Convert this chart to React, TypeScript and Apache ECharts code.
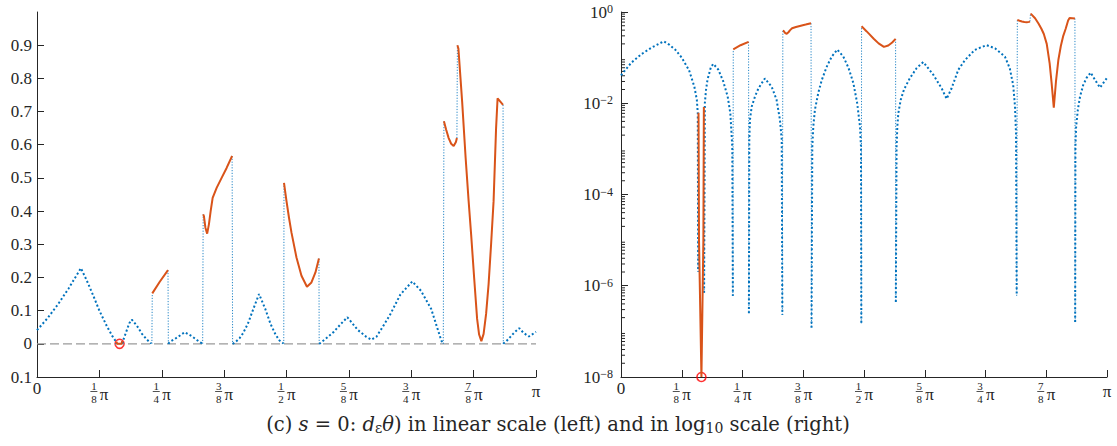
import React, { useEffect, useRef } from 'react';
import * as echarts from 'echarts';

const FONT = 'Liberation Serif';
const CAPFONT = 'DejaVu Serif';
const AX = '#262626';
const BLUE = '#0072BD';
const RED = '#D95319';

// x in units of pi, y = d_eps(theta)
const blue1 = [[0, 0.041], [0.021, 0.077], [0.0425, 0.12], [0.063, 0.166], [0.088, 0.228], [0.1, 0.19], [0.112, 0.148], [0.125, 0.1], [0.14, 0.053], [0.151, 0.023], [0.156, 0.012], [0.158, 0.006], [0.1588, 2e-6]];
const red1 = [[0.1595, 0.0062], [0.1605, 1e-5], [0.1655, 1e-8], [0.1695, 1e-5], [0.1705, 0.0083]];
const blue2 = [[0.171, 7e-7], [0.1725, 0.01], [0.175, 0.02], [0.178, 0.033], [0.185, 0.062], [0.19, 0.073], [0.2, 0.055], [0.21, 0.031], [0.2195, 0.014], [0.225, 0.006], [0.229, 0.0011], [0.2302, 6e-7]];
const red2 = [[0.231, 0.152], [0.246, 0.187], [0.2625, 0.222]];
const blue3 = [[0.2632, 2.5e-7], [0.264, 0.0016], [0.2654, 0.0044], [0.269, 0.0085], [0.2757, 0.014], [0.2826, 0.021], [0.296, 0.035], [0.31, 0.023], [0.32, 0.012], [0.327, 0.0044], [0.3307, 0.0016], [0.332, 2.3e-7]];
const red3 = [[0.333, 0.39], [0.3345, 0.385], [0.3375, 0.35], [0.341, 0.332], [0.3445, 0.36], [0.348, 0.4], [0.352, 0.44], [0.36, 0.47], [0.37, 0.5], [0.38, 0.53], [0.391, 0.566]];
const blue4 = [[0.392, 1.2e-7], [0.3936, 0.0011], [0.3957, 0.0031], [0.399, 0.0072], [0.406, 0.017], [0.413, 0.032], [0.423, 0.062], [0.4335, 0.105], [0.445, 0.15], [0.4575, 0.105], [0.468, 0.06], [0.478, 0.028], [0.486, 0.01], [0.4918, 0.0031], [0.4938, 0.0011], [0.4945, 1.5e-7]];
const red4 = [[0.495, 0.485], [0.5, 0.43], [0.505, 0.38], [0.51, 0.335], [0.52, 0.26], [0.53, 0.205], [0.541, 0.172], [0.55, 0.185], [0.558, 0.215], [0.565, 0.257]];
const blue5 = [[0.5655, 4.4e-7], [0.567, 0.0011], [0.5686, 0.0031], [0.5706, 0.006], [0.5755, 0.0118], [0.5823, 0.02], [0.5947, 0.036], [0.6084, 0.059], [0.622, 0.08], [0.6427, 0.042], [0.66, 0.021], [0.67, 0.0125], [0.68, 0.021], [0.694, 0.054], [0.708, 0.089], [0.728, 0.148], [0.752, 0.188], [0.7695, 0.16], [0.79, 0.105], [0.8, 0.058], [0.807, 0.025], [0.8107, 0.0085], [0.8128, 0.0022], [0.8142, 6e-7]];
const red5a = [[0.8155, 0.671], [0.82, 0.645], [0.825, 0.62], [0.83, 0.603], [0.835, 0.596], [0.8395, 0.608], [0.8415, 0.62]];
const red5b = [[0.8425, 0.9], [0.8445, 0.89], [0.852, 0.73], [0.859, 0.56], [0.865, 0.43], [0.87, 0.33], [0.876, 0.2], [0.882, 0.075], [0.886, 0.028], [0.8905, 0.008], [0.895, 0.03], [0.9, 0.09], [0.905, 0.18], [0.91, 0.3], [0.915, 0.43], [0.92, 0.65], [0.923, 0.74], [0.934, 0.72]];
const blue6 = [[0.9345, 1.6e-7], [0.935, 0.0011], [0.9365, 0.0031], [0.94, 0.0072], [0.9445, 0.014], [0.951, 0.025], [0.958, 0.036], [0.9665, 0.047], [0.975, 0.033], [0.9856, 0.022], [1.0, 0.036]];

const circlePoint = [0.1655, 0];
const circlePointLog = [0.1655, 1e-8];
const zeroLine = [[0, 0], [1, 0]];

const xTicks = [0, 0.125, 0.25, 0.375, 0.5, 0.625, 0.75, 0.875, 1];
const xTickNum = ['', '1', '1', '3', '1', '5', '3', '7', ''];
const xTickDen = ['', '8', '4', '8', '2', '8', '4', '8', ''];
const linTicks = [-0.1, 0, 0.1, 0.2, 0.3, 0.4, 0.5, 0.6, 0.7, 0.8, 0.9];
const linTickLabels = ['0.1', '0', '0.1', '0.2', '0.3', '0.4', '0.5', '0.6', '0.7', '0.8', '0.9'];
const logTickExp = [-8, -6, -4, -2, 0];
const logTickLabels = ['−8', '−6', '−4', '−2', '0'];

const blueSegs = [blue1, blue2, blue3, blue4, blue5, blue6];
const redSegs = [red1, red2, red3, red4, red5a, red5b];
const sequence = [blue1, red1, blue2, red2, blue3, red3, blue4, red4, blue5, red5a, red5b, blue6];

function joinWithGaps(segs: number[][][]) {
  const out: any[] = [];
  segs.forEach((s, i) => {
    if (i > 0) out.push([s[0][0], '-']);
    s.forEach((p) => out.push(p));
  });
  return out;
}

function jumps() {
  const out: any[] = [];
  for (let i = 0; i + 1 < sequence.length; i++) {
    const a = sequence[i][sequence[i].length - 1];
    const b = sequence[i + 1][0];
    if (i > 0) out.push([a[0], '-']);
    out.push(a, b);
  }
  return out;
}

const logMinor: number[] = [];
for (let e = -8; e < 0; e++) for (let m = 2; m <= 9; m++) logMinor.push(m * Math.pow(10, e));

const xRich = {
  z: { fontSize: 17, lineHeight: 14, fontFamily: FONT, color: AX },
  pe: { fontSize: 17, lineHeight: 14, fontFamily: FONT, color: AX, padding: [6, 0, 0, 0] },
  n: { fontSize: 11, lineHeight: 9, width: 7, align: 'center', fontFamily: FONT, color: AX },
  d: { fontSize: 11, lineHeight: 11, width: 7, align: 'center', fontFamily: FONT, color: AX },
  bar: { width: 7, height: 0.8, lineHeight: 3, backgroundColor: AX },
  p: { fontSize: 17, lineHeight: 3, width: 11, align: 'right', fontFamily: FONT, color: AX, padding: [6, 0, 0, 0] },
  sp: { width: 11, lineHeight: 9 },
};

function xFmt(v: number) {
  const i = xTicks.findIndex((x) => Math.abs(x - v) < 1e-6);
  if (i < 0) return '';
  if (i === 0) return '{z|0}';
  if (i === xTicks.length - 1) return '{pe|π}';
  return `{n|${xTickNum[i]}}{sp|}\n{bar|}{p|π}\n{d|${xTickDen[i]}}{sp|}`;
}

const xAxisBase = (gi: number) => ({
  type: 'value',
  gridIndex: gi,
  min: 0,
  max: 1,
  interval: 0.125,
  axisLine: { show: true, onZero: false, lineStyle: { color: AX, width: 1 } },
  axisTick: { show: true, inside: true, length: 7, lineStyle: { color: AX } },
  splitLine: { show: false },
  axisLabel: { margin: 4, formatter: xFmt, rich: xRich, color: AX, fontFamily: FONT },
});

export default function App() {
  const ref = useRef<HTMLDivElement>(null);
  useEffect(() => {
    if (!ref.current) return;
    const chart = echarts.init(ref.current, undefined, { renderer: 'svg' });
    const blueThick = joinWithGaps(blueSegs);
    const redAll = joinWithGaps(redSegs);
    const thin = jumps();
    const blueStyle = { color: BLUE, width: 2, type: [2, 2.3], cap: 'butt' };
    const thinStyle = { color: BLUE, width: 1, type: [1.2, 1.6], opacity: 0.85 };
    const redStyle = { color: RED, width: 2 };
    const option: any = {
      animation: false,
      textStyle: { fontFamily: FONT },
      grid: [
        { left: 37, top: 12, width: 499, height: 365 },
        { left: 621, top: 12, width: 486, height: 365 },
      ],
      xAxis: [xAxisBase(0), xAxisBase(1)],
      yAxis: [
        {
          type: 'value',
          gridIndex: 0,
          min: -0.1,
          max: 1,
          interval: 0.1,
          axisLine: { show: true, onZero: false, lineStyle: { color: AX, width: 1 } },
          axisTick: { show: true, inside: true, length: 7, lineStyle: { color: AX }, customValues: linTicks },
          splitLine: { show: false },
          axisLabel: {
            customValues: linTicks,
            margin: 5,
            color: AX,
            fontSize: 17,
            fontFamily: FONT,
            formatter: (v: number) => {
              const i = linTicks.findIndex((x) => Math.abs(x - v) < 1e-6);
              return i < 0 ? '' : linTickLabels[i];
            },
          },
        },
        {
          type: 'log',
          gridIndex: 1,
          logBase: 10,
          min: 1e-8,
          max: 1,
          interval: 2,
          axisLine: { show: true, onZero: false, lineStyle: { color: AX, width: 1 } },
          axisTick: { show: true, inside: true, length: 7, lineStyle: { color: AX } },
          splitLine: { show: false },
          axisLabel: {
            margin: 8,
            color: AX,
            fontFamily: FONT,
            formatter: (v: number) => {
              const e = Math.round(Math.log10(v));
              const i = logTickExp.indexOf(e);
              return i < 0 ? '' : `{b|10}{s|${logTickLabels[i]}}`;
            },
            rich: {
              b: { fontSize: 17, lineHeight: 18, fontFamily: FONT, color: AX },
              s: { fontSize: 12, lineHeight: 10, verticalAlign: 'top', fontFamily: FONT, color: AX },
            },
          },
        },
      ],
      series: [
        { type: 'line', xAxisIndex: 0, yAxisIndex: 0, data: zeroLine, symbol: 'none', silent: true, lineStyle: { color: '#9a9a9a', width: 1.3, type: [9, 4] } },
        { type: 'line', xAxisIndex: 0, yAxisIndex: 0, data: thin, symbol: 'none', silent: true, connectNulls: false, lineStyle: thinStyle },
        { type: 'line', xAxisIndex: 0, yAxisIndex: 0, data: blueThick, symbol: 'none', silent: true, connectNulls: false, lineStyle: blueStyle },
        { type: 'line', xAxisIndex: 0, yAxisIndex: 0, data: redAll, symbol: 'none', silent: true, connectNulls: false, lineStyle: redStyle },
        { type: 'scatter', xAxisIndex: 0, yAxisIndex: 0, data: [circlePoint], symbol: 'circle', symbolSize: 9, clip: false, itemStyle: { color: 'rgba(0,0,0,0)', borderColor: '#FF0000', borderWidth: 1.6 } },
        { type: 'line', xAxisIndex: 1, yAxisIndex: 1, data: thin, symbol: 'none', silent: true, connectNulls: false, lineStyle: thinStyle },
        { type: 'line', xAxisIndex: 1, yAxisIndex: 1, data: blueThick, symbol: 'none', silent: true, connectNulls: false, lineStyle: blueStyle },
        { type: 'line', xAxisIndex: 1, yAxisIndex: 1, data: redAll, symbol: 'none', silent: true, connectNulls: false, lineStyle: redStyle },
        { type: 'scatter', xAxisIndex: 1, yAxisIndex: 1, data: [circlePointLog], symbol: 'circle', symbolSize: 9, clip: false, itemStyle: { color: 'rgba(0,0,0,0)', borderColor: '#FF0000', borderWidth: 1.6 } },
        {
          type: 'custom',
          xAxisIndex: 1,
          yAxisIndex: 1,
          silent: true,
          clip: false,
          data: logMinor.map((v) => [0, v]),
          encode: { x: 0, y: 1 },
          renderItem: (params: any, api: any) => {
            const p = api.coord([api.value(0), api.value(1)]);
            return { type: 'line', shape: { x1: p[0], y1: p[1], x2: p[0] + 4, y2: p[1] }, style: { stroke: AX, lineWidth: 1 } };
          },
        },
      ],
      graphic: [
        {
          type: 'text',
          x: 558,
          y: 424,
          style: {
            text: '{r|(c) }{i|s}{r| = 0: }{i|d}{sub|ε}{i|θ}{r|) in linear scale (left) and in log}{sub|10}{r| scale (right)}',
            align: 'center',
            verticalAlign: 'middle',
            rich: {
              r: { fontSize: 19.5, lineHeight: 22, fontFamily: CAPFONT, fill: AX },
              i: { fontSize: 19.5, lineHeight: 22, fontFamily: CAPFONT, fontStyle: 'italic', fill: AX },
              sub: { fontSize: 14, lineHeight: 12, verticalAlign: 'bottom', fontFamily: CAPFONT, fill: AX },
            },
          },
        },
      ],
    };
    chart.setOption(option);
    return () => chart.dispose();
  }, []);
  return <div ref={ref} style={{ position: 'absolute', left: 0, top: 0, width: 1117, height: 446 }} />;
}
